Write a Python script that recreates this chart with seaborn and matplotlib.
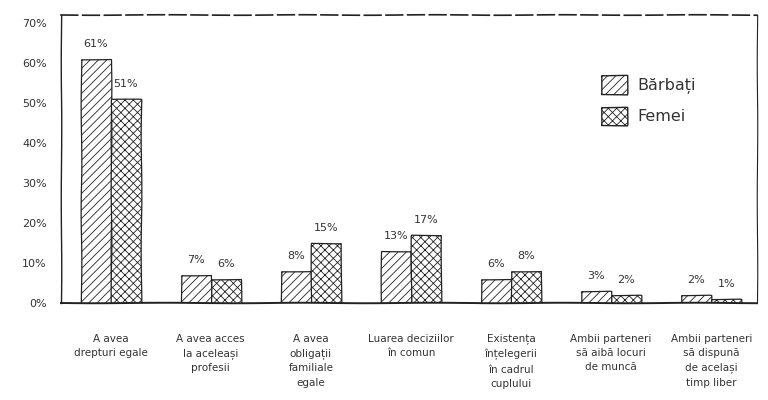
import seaborn as sns
import pandas as pd
import matplotlib.pyplot as plt
from matplotlib.patches import Patch

# date
categorii = [
    "A avea\ndrepturi egale",
    "A avea acces\nla aceleași\nprofesii",
    "A avea\nobligații\nfamiliale\negale",
    "Luarea deciziilor\nîn comun",
    "Existența\nînțelegerii\nîn cadrul\ncuplului",
    "Ambii parteneri\nsă aibă locuri\nde muncă",
    "Ambii parteneri\nsă dispună\nde același\ntimp liber",
]
barbati = [61, 7, 8, 13, 6, 3, 2]
femei = [51, 6, 15, 17, 8, 2, 1]
serii = ["Bărbați", "Femei"]
y_ticks = [0, 10, 20, 30, 40, 50, 60, 70]

df = pd.DataFrame({
    "Categorie": categorii * 2,
    "Procent": barbati + femei,
    "Gen": [serii[0]] * len(categorii) + [serii[1]] * len(categorii),
})

sns.set_style("white")
plt.rcParams["font.family"] = ["DejaVu Sans"]
plt.rcParams["hatch.linewidth"] = 0.6
plt.rcParams["path.sketch"] = (0.35, 120, 2)

fig = plt.figure(figsize=(7.68, 4), dpi=100)
ax = fig.add_axes([0.079, 0.2425, 0.907, 0.72])

sns.barplot(data=df, x="Categorie", y="Procent", hue="Gen",
            palette=["white", "white"], width=0.6, edgecolor="#222222",
            linewidth=0.9, legend=False, ax=ax)

hasuri = ["////", "xxxx"]
for cont, h in zip(ax.containers, hasuri):
    for bar in cont:
        bar.set_hatch(h)
    ax.bar_label(cont, labels=[f"{v:.0f}%" for v in cont.datavalues],
                 padding=7, fontsize=8, color="#333333")

ax.set_ylim(0, 72)
ax.set_xlim(-0.5, 6.46)
ax.set_yticks(y_ticks)
ax.set_yticklabels([f"{t}%" for t in y_ticks], fontsize=8, color="#333333")
ax.set_xlabel("")
ax.set_ylabel("")
ax.set_xticks(range(len(categorii)))
ax.set_xticklabels(categorii, fontsize=7.5, color="#333333", linespacing=1.55)
ax.set_xticks([i + 0.5 for i in range(len(categorii) - 1)], minor=True)
ax.tick_params(axis="x", which="major", length=0, pad=22)
ax.tick_params(axis="x", which="minor", length=4, width=0.8, direction="out", color="#222222")
ax.tick_params(axis="y", length=4, width=0.9, direction="inout", color="#222222", pad=8)

for s in ["left", "right", "top", "bottom"]:
    ax.spines[s].set_visible(True)
    ax.spines[s].set_color("#222222")
    ax.spines[s].set_sketch_params(0.25, 150, 2)
ax.spines["left"].set_linewidth(1.0)
ax.spines["right"].set_linewidth(0.8)
ax.spines["bottom"].set_linewidth(1.4)
ax.spines["top"].set_linewidth(1.2)
ax.spines["top"].set_linestyle((0, (10, 3)))

handles = [Patch(facecolor="white", edgecolor="#222222", hatch=h, label=s)
           for h, s in zip(hasuri, serii)]
ax.legend(handles=handles, loc="upper left", bbox_to_anchor=(0.755, 0.84),
          frameon=False, fontsize=11.5, handlelength=1.6, handleheight=1.4,
          labelspacing=0.8, handletextpad=0.7, labelcolor="#333333")

fig.savefig("out.png", dpi=100)
